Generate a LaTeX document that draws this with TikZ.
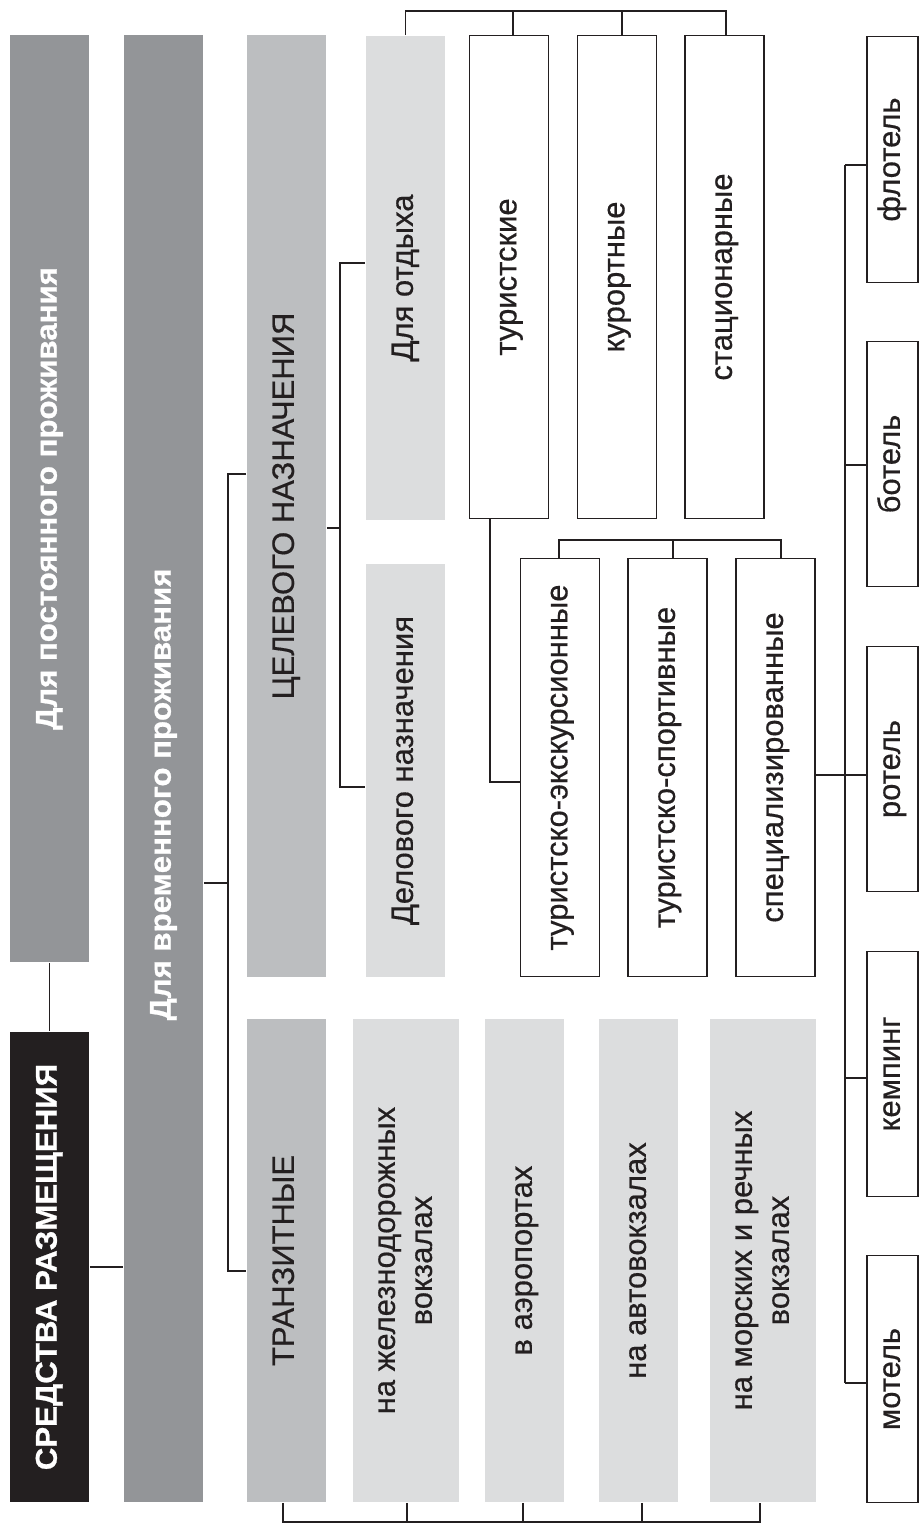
\documentclass[tikz,border=0pt]{standalone}
\usepackage{fontspec}
\setmainfont{Liberation Sans}[FakeBold=0.5]
\newfontfamily\headfont{Liberation Sans Bold}[FakeStretch=1.04,FakeBold=0.8]
\usepackage{graphicx}
\definecolor{inkblack}{HTML}{231F20}
\definecolor{greyA}{HTML}{939598}
\definecolor{greyB}{HTML}{BCBEC0}
\definecolor{greyC}{HTML}{DCDDDE}
\newcommand{\rottext}[1]{\rotatebox{90}{\begin{tabular}{@{}c@{}}#1\end{tabular}}}

\begin{document}
\begin{tikzpicture}[x=1pt,y=-1pt,line width=1.6pt,draw=inkblack,
    box/.style={rectangle,inner sep=0pt,minimum width=79pt,text=inkblack,font=\fontsize{31}{37}\selectfont},
    dark node/.style={box,fill=greyA,text=white,font=\headfont\fontsize{30}{36}\selectfont},
    black node/.style={dark node,fill=inkblack},
    mid node/.style={box,fill=greyB},
    light node/.style={box,fill=greyC},
    white node/.style={box,draw=inkblack,fill=white},
    bus/.style={line width=2.4pt}]
    \useasboundingbox (0,0) rectangle (919,1524);

    \node[black node,minimum height=470pt] (1) at (49.5,1267) {\rottext{СРЕДСТВА РАЗМЕЩЕНИЯ}};
    \node[dark node,minimum height=927pt] (2) at (49.5,498.5) {\rottext{Для постоянного проживания}};
    \node[dark node,minimum height=1467pt] (3) at (163.5,768.5) {\rottext{Для временного проживания\hspace*{52pt}}};
    \node[mid node,minimum height=942pt] (4) at (286.5,506) {\rottext{ЦЕЛЕВОГО НАЗНАЧЕНИЯ}};
    \node[mid node,minimum height=483pt] (5) at (286.5,1260.5) {\rottext{ТРАНЗИТНЫЕ}};
    \node[light node,minimum height=484pt] (6) at (405.5,278) {\rottext{Для отдыха}};
    \node[light node,minimum height=413pt] (7) at (405.5,770.5) {\rottext{Делового назначения}};
    \node[light node,minimum height=483pt,minimum width=106pt] (8) at (406,1260.5) {\rottext{на железнодорожных\\вокзалах}};
    \node[light node,minimum height=483pt] (9) at (524.5,1260.5) {\rottext{в аэропортах}};
    \node[light node,minimum height=483pt] (10) at (638.5,1260.5) {\rottext{на автовокзалах}};
    \node[light node,minimum height=483pt,minimum width=106pt] (11) at (763,1260.5) {\rottext{на морских и речных\\вокзалах}};
    \node[white node,minimum height=483pt] (12) at (509,277) {\rottext{туристские}};
    \node[white node,minimum height=483pt] (13) at (617,277) {\rottext{курортные}};
    \node[white node,minimum height=483pt] (14) at (724.5,277) {\rottext{стационарные}};
    \node[white node,minimum height=418pt] (15) at (560,767.5) {\rottext{туристско-экскурсионные}};
    \node[white node,minimum height=418pt] (16) at (667.5,767.5) {\rottext{туристско-спортивные}};
    \node[white node,minimum height=418pt] (17) at (775.5,767.5) {\rottext{специализированные}};
    \node[white node,minimum height=246pt,minimum width=51pt] (18) at (892.5,159.5) {\rottext{флотель}};
    \node[white node,minimum height=245pt,minimum width=51pt] (19) at (892.5,464) {\rottext{ботель}};
    \node[white node,minimum height=245pt,minimum width=51pt] (20) at (892.5,769) {\rottext{ротель}};
    \node[white node,minimum height=245pt,minimum width=51pt] (21) at (892.5,1074) {\rottext{кемпинг}};
    \node[white node,minimum height=247pt,minimum width=51pt] (22) at (892.5,1379) {\rottext{мотель}};

    \path[draw]
        (2) edge (1)
        (1.east) edge (1.east -| 3.west)
        (3.east |- 0,883) edge (228,883)
    ;
    \draw (4.west |- 0,474) -| (228,1271) -- (5.west |- 0,1271);
    \draw (4.east |- 0,528) -- (340,528);
    \draw (6.west |- 0,263) -| (340,787) -- (7.west |- 0,787);

    \draw (6.north) |- (726,11) -- ([xshift=1.5]14.north);
    \path[draw]
        ([xshift=4]12.north |- 0,11) edge ([xshift=4]12.north)
        ([xshift=5]13.north |- 0,11) edge ([xshift=5]13.north)
    ;
    \draw ([xshift=-19]12.south) |- (15.west |- 0,782);
    \draw ([xshift=-1]15.north) |- (781,540) -- ([xshift=5.5]17.north);
    \draw ([xshift=5.5]16.north |- 0,540) -- ([xshift=5.5]16.north);

    \draw (17.east |- 0,775) -- (20.west |- 0,775);
    \draw[bus] (845,165) -- (845,1383);
    \path[draw]
        (845,165) edge (18.west |- 0,165)
        (845,465) edge (19.west |- 0,465)
        (845,1078) edge (21.west |- 0,1078)
        (845,1383) edge (22.west |- 0,1383)
    ;

    \draw ([xshift=-3.5]5.south) |- (760,1522) -- ([xshift=-3]11.south);
    \path[draw]
        ([xshift=1]8.south) edge ([xshift=1]8.south |- 0,1522)
        ([xshift=-1.5]9.south) edge ([xshift=-1.5]9.south |- 0,1522)
        ([xshift=3.5]10.south) edge ([xshift=3.5]10.south |- 0,1522)
    ;
\end{tikzpicture}
\end{document}
